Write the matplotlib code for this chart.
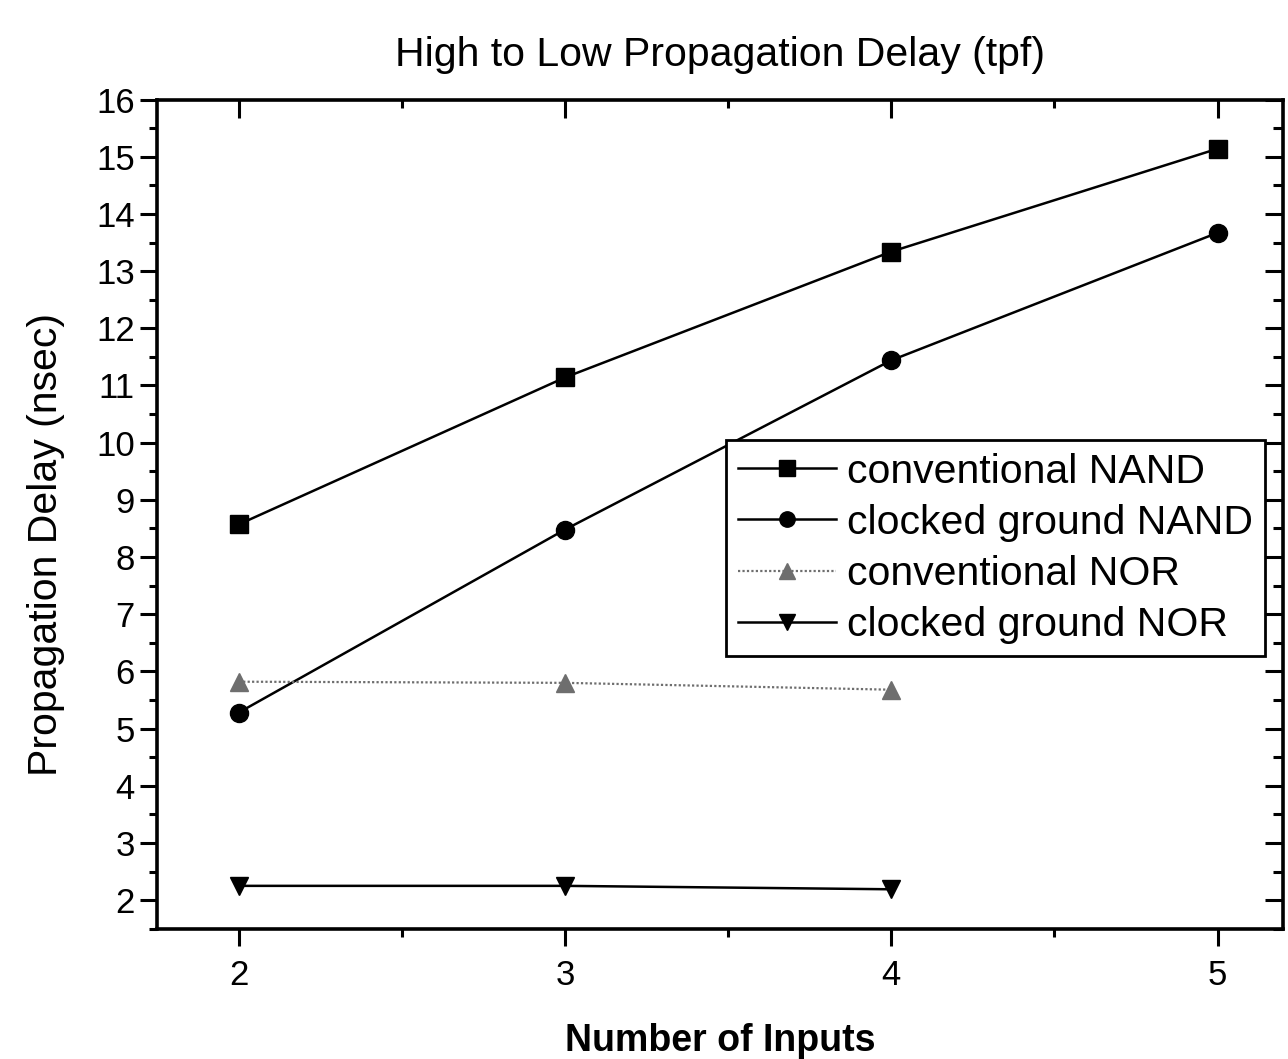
import numpy as np
import matplotlib.pyplot as plt
from matplotlib.ticker import MultipleLocator

plt.rcParams['font.family'] = ['Liberation Sans', 'DejaVu Sans']

# data
inputs = [2, 3, 4, 5]
conv_nand = [8.57, 11.14, 13.34, 15.14]
clk_nand = [5.28, 8.48, 11.44, 13.67]
inputs_nor = [2, 3, 4]
conv_nor = [5.82, 5.80, 5.68]
clk_nor = [2.25, 2.25, 2.19]

fig = plt.figure(figsize=(12.88, 10.59), dpi=100)
ax = fig.add_axes([0.122, 0.123, 0.874, 0.783])

ax.plot(inputs, conv_nand, color='k', lw=1.8, marker='s', ms=13, label='conventional NAND')
ax.plot(inputs, clk_nand, color='k', lw=1.8, marker='o', ms=13, label='clocked ground NAND')
ax.plot(inputs_nor, conv_nor, color='#6e6e6e', lw=1.6, ls=(0, (1, 1)), marker='^', ms=13,
        label='conventional NOR')
ax.plot(inputs_nor, clk_nor, color='k', lw=1.8, marker='v', ms=13, label='clocked ground NOR')

ax.set_xlim(1.75, 5.2)
ax.set_ylim(1.5, 16)
ax.xaxis.set_major_locator(MultipleLocator(1))
ax.xaxis.set_minor_locator(MultipleLocator(0.5))
ax.yaxis.set_major_locator(MultipleLocator(1))
ax.yaxis.set_minor_locator(MultipleLocator(0.5))

for s in ax.spines.values():
    s.set_linewidth(2.6)

ax.tick_params(which='major', direction='out', length=12, width=2.2, labelsize=25)
ax.tick_params(axis='x', which='major', pad=10)
ax.tick_params(axis='y', which='major', pad=4)
ax.tick_params(which='minor', direction='out', length=6, width=2.2)

# mirrored ticks pointing inward on top and right
top = ax.secondary_xaxis('top')
top.xaxis.set_major_locator(MultipleLocator(1))
top.xaxis.set_minor_locator(MultipleLocator(0.5))
top.tick_params(which='major', direction='in', length=13, width=2.2, labeltop=False)
top.tick_params(which='minor', direction='in', length=6, width=2.2)
right = ax.secondary_yaxis('right')
right.yaxis.set_major_locator(MultipleLocator(1))
right.yaxis.set_minor_locator(MultipleLocator(0.5))
right.tick_params(which='major', direction='in', length=13, width=2.2, labelright=False)
right.tick_params(which='minor', direction='in', length=7, width=2.2)

ax.set_xlabel('Number of Inputs', fontsize=27, fontweight='bold', labelpad=22)
ax.set_ylabel('Propagation Delay (nsec)', fontsize=29.5)
ax.yaxis.set_label_coords(-0.082, 0.463)
ax.set_title('High to Low Propagation Delay (tpf)', fontsize=29.5, pad=24)

leg = ax.legend(loc='upper right', bbox_to_anchor=(0.984, 0.589), fontsize=29.5,
                fancybox=False, edgecolor='k', framealpha=1, handlelength=2.4,
                borderpad=0.3, labelspacing=0.32, handletextpad=0.25, borderaxespad=0,
                markerscale=0.85)
leg.get_frame().set_linewidth(2)

fig.savefig('out.png', dpi=100)
